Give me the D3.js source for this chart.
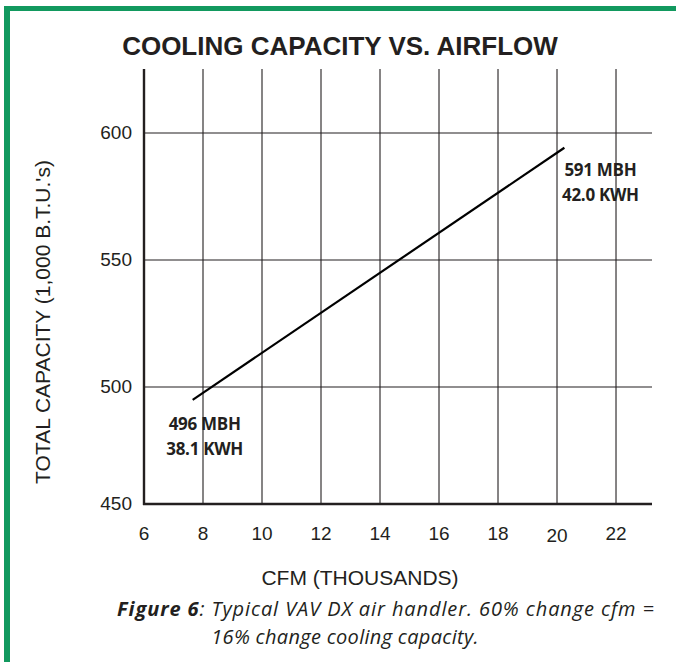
<!DOCTYPE html>
<html>
<head>
<meta charset="utf-8">
<script src="https://cdnjs.cloudflare.com/ajax/libs/d3/7.8.5/d3.min.js"></script>
<style>
  body { margin: 0; background: #fff; }
  svg { display: block; }
</style>
</head>
<body>
<div id="chart"></div>
<script>
// airflow (thousand cfm) vs total capacity (MBH)
var cfm = [7.65, 20.25];
var capacity = [494.5, 594.2];

var x_ticks = [6, 8, 10, 12, 14, 16, 18, 20, 22];
var y_ticks = [450, 500, 550, 600];

var start_note = ['496 MBH', '38.1 KWH'];
var end_note = ['591 MBH', '42.0 KWH'];

var title = 'COOLING CAPACITY VS. AIRFLOW';
var x_title = 'CFM (THOUSANDS)';
var y_title = "TOTAL CAPACITY (1,000 B.T.U.'s)";
var caption_bold = 'Figure 6';
var caption_1 = ': Typical VAV DX air handler. 60% change cfm =';
var caption_2 = '16% change cooling capacity.';

var chart_width = 676;
var chart_height = 662;
var ink = '#231f20';
var green = '#12995f';
var sans = "'Liberation Sans', Arial, sans-serif";

var svg = d3.select('#chart')
  .append('svg')
  .attr('width', chart_width)
  .attr('height', chart_height);

// green frame, top and left only
svg.append('rect')
  .attr('x', 4).attr('y', 6)
  .attr('width', chart_width - 4).attr('height', 5)
  .attr('fill', green);
svg.append('rect')
  .attr('x', 4).attr('y', 6)
  .attr('width', 6).attr('height', chart_height - 6)
  .attr('fill', green);

var x_scale = d3.scaleLinear()
  .domain([6, 23.22])
  .range([144, 652]);

// the printed grid is slightly squeezed below 500
var y_scale = d3.scaleLinear()
  .domain([450, 500, 600, 625.2])
  .range([504, 387, 133, 69]);

var x0 = x_scale(6), x1 = x_scale(23.22);
var y0 = y_scale(450), y1 = y_scale(625.2);

// vertical grid
svg.append('g')
  .selectAll('line')
  .data(x_ticks.slice(1))
  .enter()
  .append('line')
  .attr('x1', function(d){ return x_scale(d); })
  .attr('x2', function(d){ return x_scale(d); })
  .attr('y1', y1)
  .attr('y2', y0)
  .attr('stroke', ink)
  .attr('stroke-width', 1.1);

// horizontal grid
svg.append('g')
  .selectAll('line')
  .data(y_ticks.slice(1))
  .enter()
  .append('line')
  .attr('x1', x0)
  .attr('x2', x1)
  .attr('y1', function(d){ return y_scale(d); })
  .attr('y2', function(d){ return y_scale(d); })
  .attr('stroke', ink)
  .attr('stroke-width', 1.1);

// axes lines
svg.append('line')
  .attr('x1', x0).attr('x2', x0)
  .attr('y1', y1).attr('y2', y0 + 1)
  .attr('stroke', ink).attr('stroke-width', 2.4);
svg.append('line')
  .attr('x1', x0 - 1).attr('x2', x1)
  .attr('y1', y0).attr('y2', y0)
  .attr('stroke', ink).attr('stroke-width', 2.4);

// tick labels
svg.append('g')
  .selectAll('text')
  .data(x_ticks)
  .enter()
  .append('text')
  .text(function(d){ return d; })
  .attr('x', function(d){ return x_scale(d); })
  .attr('y', function(d){ return d == 20 ? y0 + 38 : y0 + 36; })
  .attr('text-anchor', 'middle')
  .attr('font-family', sans)
  .attr('font-size', 19)
  .attr('fill', ink);

svg.append('g')
  .selectAll('text')
  .data(y_ticks)
  .enter()
  .append('text')
  .text(function(d){ return d; })
  .attr('x', 132)
  .attr('y', function(d){ return y_scale(d) + 6; })
  .attr('text-anchor', 'end')
  .attr('font-family', sans)
  .attr('font-size', 19)
  .attr('fill', ink);

// the line
var line = d3.line()
  .x(function(d){ return x_scale(d[0]); })
  .y(function(d){ return y_scale(d[1]); });

svg.append('path')
  .datum(d3.zip(cfm, capacity))
  .attr('d', line)
  .attr('fill', 'none')
  .attr('stroke', '#000')
  .attr('stroke-width', 2.2);

// end notes
function note(lines, cx, cy) {
  svg.append('g')
    .selectAll('text')
    .data(lines)
    .enter()
    .append('text')
    .text(function(d){ return d; })
    .attr('x', cx)
    .attr('y', function(d, i){ return cy + i * 25; })
    .attr('text-anchor', 'middle')
    .attr('font-family', "'Open Sans', sans-serif")
    .attr('font-weight', 'bold')
    .attr('font-size', 17)
    .attr('letter-spacing', -0.3)
    .attr('fill', ink);
}
note(start_note, x_scale(cfm[0]) + 12, y_scale(capacity[0]) + 30);
note(end_note, x_scale(cfm[1]) + 36, y_scale(capacity[1]) + 28);

// titles
svg.append('text')
  .text(title)
  .attr('x', 340)
  .attr('y', 55)
  .attr('text-anchor', 'middle')
  .attr('font-family', sans)
  .attr('font-weight', 'bold')
  .attr('font-size', 26)
  .attr('fill', ink);

svg.append('text')
  .text(x_title)
  .attr('x', 360)
  .attr('y', 585)
  .attr('text-anchor', 'middle')
  .attr('font-family', sans)
  .attr('font-size', 21)
  .attr('fill', ink);

svg.append('text')
  .text(y_title)
  .attr('transform', 'translate(50,' + 322 + ') rotate(-90)')
  .attr('text-anchor', 'middle')
  .attr('font-family', sans)
  .attr('font-size', 21)
  .attr('fill', ink);

// caption
var cap = svg.append('text')
  .attr('x', 386)
  .attr('y', 616)
  .attr('text-anchor', 'middle')
  .attr('font-family', "'Open Sans', sans-serif")
  .attr('font-style', 'italic')
  .attr('font-size', 20)
  .attr('letter-spacing', 0.9)
  .attr('fill', ink);
cap.append('tspan').attr('font-weight', 'bold').text(caption_bold);
cap.append('tspan').text(caption_1);

svg.append('text')
  .text(caption_2)
  .attr('x', 345)
  .attr('y', 644)
  .attr('text-anchor', 'middle')
  .attr('font-family', "'Open Sans', sans-serif")
  .attr('font-style', 'italic')
  .attr('font-size', 20)
  .attr('letter-spacing', 0.3)
  .attr('fill', ink);
</script>
</body>
</html>
